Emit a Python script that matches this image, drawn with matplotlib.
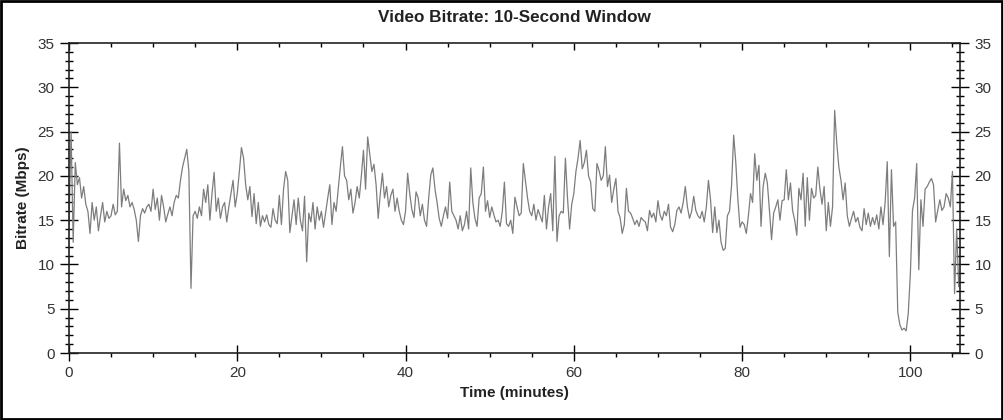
import numpy as np
import matplotlib
matplotlib.use('Agg')
import matplotlib.pyplot as plt
from matplotlib.ticker import MultipleLocator

plt.rcParams['font.family'] = ['Liberation Sans', 'DejaVu Sans']

# bitrate in Mbps, one value every 15 seconds (4 per minute)
bitrate = [
    14.5, 25.0, 12.5, 21.5,
    19.0, 19.8, 17.5, 18.8,
    16.8, 16.0, 13.5, 17.0,
    15.0, 16.5, 13.8, 15.5,
    17.0, 14.8, 16.0, 15.2,
    15.5, 16.8, 15.6, 16.0,
    23.7, 16.5, 18.5, 17.2,
    17.8, 16.5, 17.0, 16.2,
    15.0, 12.6, 15.5, 16.3,
    15.8, 16.5, 16.8, 16.0,
    18.5, 16.2, 17.5, 15.0,
    17.8, 16.5, 14.8, 15.7,
    16.5, 15.5, 17.0, 17.8,
    17.5, 19.5, 21.0, 22.0,
    23.0, 20.5, 7.3, 15.5,
    16.0, 15.2, 16.5, 15.5,
    18.5, 17.0, 19.0, 15.0,
    18.0, 20.4, 16.0, 17.5,
    15.2, 16.5, 17.0, 14.8,
    16.5, 18.0, 19.5, 16.5,
    18.0, 20.5, 23.2, 22.0,
    19.0, 17.3, 18.8, 15.4,
    18.0, 14.6, 17.0, 14.3,
    15.5, 14.8, 15.6, 14.5,
    14.2, 16.3, 15.0, 14.6,
    17.8, 14.5, 18.5, 20.5,
    19.5, 13.6, 15.5, 17.3,
    14.5, 17.5, 15.0, 13.8,
    17.7, 10.3, 15.8, 14.8,
    17.0, 14.0, 16.5, 15.0,
    16.0, 14.2, 15.8, 17.5,
    19.0, 14.5, 17.0, 16.0,
    18.5, 21.0, 23.3, 20.0,
    19.5, 17.3, 18.5, 15.8,
    17.0, 18.8, 17.5, 20.0,
    22.9, 18.5, 24.4, 22.5,
    20.5, 21.3, 19.0, 15.2,
    18.0, 20.3, 17.5, 18.8,
    16.5, 17.8, 18.5, 16.0,
    17.5, 16.0, 15.0, 14.5,
    16.0, 20.3, 18.0, 16.2,
    15.3, 18.2, 17.5, 15.5,
    16.8, 15.0, 14.3, 17.5,
    20.1, 20.9, 18.5, 17.0,
    15.2, 14.3, 15.5, 16.5,
    15.2, 19.3, 16.0, 15.5,
    15.0, 14.0, 15.5, 13.8,
    14.5, 16.0, 14.0, 20.9,
    17.0, 15.2, 14.3, 17.5,
    18.0, 21.0, 16.0, 17.2,
    15.3, 16.5, 15.6, 14.8,
    15.0, 14.3, 16.0, 19.3,
    14.6, 14.3, 15.0, 13.5,
    17.6, 16.5, 15.5, 15.8,
    21.4, 19.5, 17.5, 16.0,
    15.5, 16.8, 15.0, 16.2,
    15.5, 14.8, 17.8, 14.0,
    16.5, 18.0, 13.8, 22.2,
    12.6, 15.5, 16.0, 15.8,
    22.0, 17.5, 14.0, 16.8,
    18.0, 20.5, 22.0, 24.0,
    20.8, 21.5, 22.9, 20.0,
    19.3, 16.3, 16.0, 21.4,
    20.6, 19.5, 20.0, 23.3,
    18.8, 20.1, 17.0, 18.5,
    19.7, 16.0, 15.3, 13.5,
    14.5, 18.6, 16.0, 15.8,
    15.2, 14.5, 15.0, 14.3,
    15.3, 15.0, 14.8, 13.8,
    16.1, 15.3, 15.8, 14.8,
    17.2, 15.6, 15.0, 16.0,
    15.5, 16.8, 14.2, 13.7,
    14.5, 16.1, 16.5, 15.8,
    17.0, 18.8, 16.5, 15.2,
    16.0, 17.7, 16.1, 15.5,
    15.2, 16.0, 14.8, 16.5,
    19.5, 17.3, 13.6, 16.5,
    13.6, 15.0, 12.5, 11.6,
    11.8, 15.5, 16.0, 19.0,
    24.6, 21.5, 17.3, 14.2,
    14.8, 14.5, 13.5, 15.5,
    18.0, 17.0, 22.5, 19.5,
    21.2, 14.3, 18.8, 20.3,
    19.2, 16.1, 12.8, 15.8,
    16.5, 17.3, 15.0, 17.2,
    17.3, 20.7, 17.3, 19.2,
    16.1, 15.0, 13.3, 18.6,
    17.3, 20.3, 14.3, 19.8,
    15.0, 18.6, 17.5, 17.8,
    21.0, 18.5, 16.8, 18.8,
    13.8, 17.0, 14.3, 16.5,
    27.4, 23.7, 21.0, 19.5,
    17.3, 19.2, 15.5, 14.3,
    15.2, 16.0, 14.8, 15.3,
    14.2, 13.8, 16.3, 14.5,
    15.8, 14.3, 15.3, 14.5,
    15.6, 14.0, 16.5, 14.5,
    17.0, 21.6, 10.9, 20.7,
    14.3, 14.8, 4.6, 3.2,
    2.6, 2.8, 2.5, 4.5,
    9.0, 16.1, 17.5, 21.4,
    9.4, 17.3, 14.3, 18.5,
    18.8, 19.3, 19.7, 19.0,
    14.8, 16.1, 17.3, 16.1,
    16.5, 18.0, 17.5, 16.5,
    20.5, 6.7, 14.0, 7.5,
]
step_minutes = 0.25
minutes = np.arange(len(bitrate)) * step_minutes

fig = plt.figure(figsize=(10.04, 4.2), dpi=100)
ax = fig.add_axes([0.0687, 0.1595, 0.8875, 0.738])

ax.plot(minutes, bitrate, color='#7d7d7d', linewidth=0.9)

ax.set_xlim(0, 105.9)
ax.set_ylim(0, 35)
ax.xaxis.set_major_locator(MultipleLocator(20))
ax.xaxis.set_minor_locator(MultipleLocator(5))
ax.yaxis.set_major_locator(MultipleLocator(5))
ax.yaxis.set_minor_locator(MultipleLocator(1))

for s in ax.spines.values():
    s.set_linewidth(1.2)
    s.set_color('#222222')

ax.tick_params(axis='y', which='major', direction='inout', length=13, width=1,
               left=True, right=True, labelleft=True, labelright=True,
               labelsize=11, labelcolor='#333333', pad=4)
ax.tick_params(axis='y', which='minor', direction='inout', length=6, width=1,
               left=True, right=True)
ax.tick_params(axis='x', which='major', direction='inout', length=11, width=1,
               top=False, bottom=True, labelsize=11, labelcolor='#333333', pad=4)
ax.tick_params(axis='x', which='minor', direction='out', length=3, width=1,
               top=False, bottom=True)

# top axis: ticks pointing inward, no labels
top = ax.secondary_xaxis('top')
top.xaxis.set_major_locator(MultipleLocator(20))
top.xaxis.set_minor_locator(MultipleLocator(5))
top.tick_params(which='major', direction='in', length=5, width=1, labeltop=False)
top.tick_params(which='minor', direction='in', length=3, width=1)
top.spines['top'].set_visible(False)

ax.set_title('Video Bitrate: 10-Second Window', fontsize=12.3, fontweight='bold',
             color='#222222', pad=15)
ax.set_xlabel('Time (minutes)', fontsize=11, fontweight='bold', color='#222222', labelpad=4)
ax.set_ylabel('Bitrate (Mbps)', fontsize=11, fontweight='bold', color='#222222', labelpad=5)

# frame around the whole image
fig.patches.append(plt.Rectangle((0.001, 0.002), 0.997, 0.995, transform=fig.transFigure,
                                 fill=False, edgecolor='black', linewidth=2))

fig.savefig('out.png', dpi=100)
